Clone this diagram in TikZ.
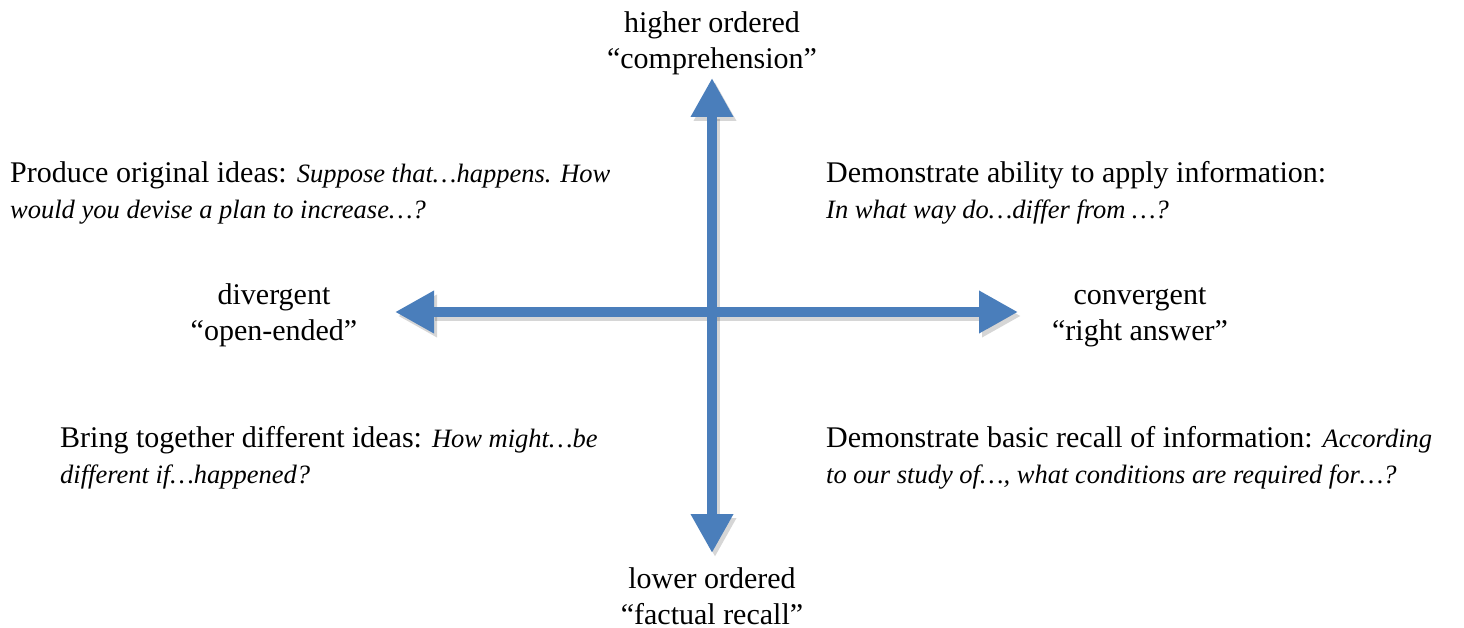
\documentclass[tikz,border=0pt]{standalone}
\usepackage{fontspec}
\setmainfont{Liberation Serif}
\usepackage{xcolor}
\usetikzlibrary{positioning}
\usetikzlibrary{arrows.meta}
\definecolor{axisblue}{HTML}{4A7EBB}
\newcommand{\qtext}[1]{{\fontsize{26.5}{36}\selectfont\itshape #1}}

\begin{document}
\begin{tikzpicture}[x=1pt,y=-1pt,
  axis/.style={draw=axisblue,line width=10pt,
    {Triangle[width=40pt,length=39pt]}-{Triangle[width=40pt,length=39pt]}},
  shade/.style={draw=black,opacity=0.16,line width=10pt,
    {Triangle[width=40pt,length=39pt]}-{Triangle[width=40pt,length=39pt]}},
  lbl/.style={font=\fontsize{30}{36}\selectfont,align=center,inner sep=0pt},
  txt/.style={font=\fontsize{30}{36}\selectfont,align=left,inner sep=0pt,anchor=base west}]
\useasboundingbox (0,0) rectangle (1464,628);

\coordinate (top) at (712,78);
\coordinate (bottom) at (712,553);
\coordinate (left) at (395,312);
\coordinate (right) at (1018,312);

% shadows
\draw[shade,transform canvas={shift={(3pt,-4pt)}}] (left) -- (right);
\draw[shade,transform canvas={shift={(3pt,-4pt)}}] (bottom) -- (top);
% axes
\draw[axis] (left) -- (right);
\draw[axis] (bottom) -- (top);

\node[lbl,above=3pt of top] (higher) {higher ordered\\``comprehension''};
\node[lbl,below=14pt of bottom] (lower) {lower ordered\\``factual recall''};
\node[lbl] (divergent) at (274,315) {divergent\\``open-ended''};
\node[lbl] (convergent) at (1140,317) {convergent\\``right answer''};

% base anchor sits on the last line
\node[txt] (produce) at (10,219) {Produce original ideas: \qtext{Suppose that…happens. How}\\\qtext{would you devise a plan to increase…?}};
\node[txt] (apply) at (826,219) {Demonstrate ability to apply information:\\\qtext{In what way do…differ from …?}};
\node[txt] (together) at (60,483) {Bring together different ideas: \qtext{How might…be}\\\qtext{different if…happened?}};
\node[txt] (recall) at (826,483) {Demonstrate basic recall of information: \qtext{According}\\\qtext{to our study of…, what conditions are required for…?}};
\end{tikzpicture}
\end{document}
